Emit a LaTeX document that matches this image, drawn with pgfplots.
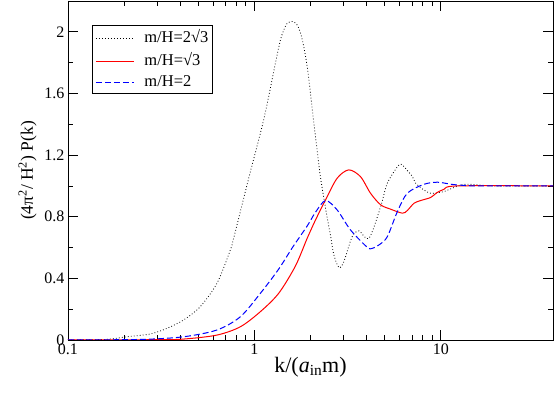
\documentclass[border=0pt]{standalone}
\usepackage{fontspec}
\setmainfont{Liberation Serif}
\usepackage{pgfplots}
\pgfplotsset{compat=1.18}
\newcommand{\legline}[1]{\tikz[baseline=-0.6ex]\draw[#1] (0pt,0pt) -- (38pt,0pt);\hspace{10pt}}

\begin{document}
\begin{tikzpicture}
  \begin{axis}[
      scale only axis, width=485pt, height=339pt,
      xmode=log, xmin=0.1, xmax=40,
      ymin=0, ymax=2.2,
      xtick={0.1,1,10}, xticklabels={0.1,1,10},
      ytick={0,0.4,0.8,1.2,1.6,2}, minor y tick num=1,
      /pgf/number format/assume math mode=true,
      tick label style={font=\fontsize{16}{18}\selectfont},
      major tick length=10pt, minor tick length=5pt,
      tick align=inside, tick pos=both,
      axis line style={line width=0.8pt},
      tick style={black, line width=0.8pt},
      xlabel={k/(\textit{a}\textsubscript{in}m)},
      ylabel={(4π\textsuperscript{2}/ H\textsuperscript{2}) P(k)},
      xlabel style={font=\fontsize{22}{24}\selectfont, yshift=4pt},
      ylabel style={font=\fontsize{17.5}{20}\selectfont, yshift=1pt},
      legend cell align=left,
      legend image code/.code={},
      legend style={at={(0.049,0.929)}, anchor=north west,
        font=\fontsize{16.5}{19}\selectfont, row sep=4.5pt, column sep=0pt,
        inner xsep=1.5pt, inner ysep=2.5pt},
    ]
    \addplot[black, line width=0.8pt, dash pattern=on 0.8pt off 2.2pt, smooth, tension=0.5] coordinates {
      (0.1,0) (0.14,0.002) (0.168,0.006) (0.207,0.021) (0.276,0.039) (0.34,0.076)
      (0.417,0.13) (0.512,0.216) (0.63,0.368) (0.743,0.584) (0.774,0.66)
      (0.93,1.045) (1.122,1.43) (1.297,1.797) (1.38,1.948) (1.44,2.013)
      (1.5,2.056) (1.6,2.067) (1.695,2.045) (1.77,1.99) (1.84,1.905)
      (1.92,1.775) (2.0,1.60) (2.085,1.407) (2.17,1.234) (2.26,1.06)
      (2.36,0.92) (2.47,0.78) (2.56,0.68) (2.66,0.56) (2.78,0.49)
      (2.88,0.468) (3.0,0.5) (3.085,0.541) (3.35,0.671)
      (3.64,0.708) (4.12,0.66) (4.76,0.866) (5.17,1.018) (5.97,1.136)
      (6.35,1.125) (6.61,1.10) (7.05,1.06) (7.33,1.018) (8.1,0.974)
      (8.84,0.952) (9.78,0.957) (10.4,0.963) (12.8,1.006) (14.5,1.01)
      (16,1.006) (20,1.0) (40,1.0)
    };
    \addlegendentry{\legline{draw=black, line width=0.8pt, dash pattern=on 0.8pt off 2.2pt}m/H=2√3}
    \addplot[red, line width=1pt, smooth, tension=0.5] coordinates {
      (0.1,0) (0.3,0.002) (0.417,0.006) (0.63,0.032) (0.841,0.086)
      (1.077,0.184) (1.35,0.303) (1.66,0.48) (1.92,0.66) (2.13,0.78)
      (2.41,0.91) (2.78,1.05) (3.21,1.104) (3.71,1.06) (4.2,0.952) (4.76,0.877)
      (5.38,0.849) (6.23,0.823) (6.61,0.84) (7.18,0.887) (7.8,0.905)
      (8.83,0.925) (9.5,0.955) (10.4,0.978) (12.3,1.0) (40,1.0)
    };
    \addlegendentry{\legline{draw=red, line width=1pt, solid}m/H=√3}
    \addplot[blue, line width=1pt, dash pattern=on 6pt off 3pt, smooth, tension=0.5] coordinates {
      (0.1,0) (0.25,0.004) (0.417,0.021) (0.63,0.065) (0.841,0.151)
      (1.077,0.303) (1.35,0.46) (1.6,0.6) (1.92,0.74) (2.13,0.83) (2.41,0.905)
      (2.78,0.844) (3.28,0.714) (4.03,0.602) (4.29,0.595) (4.7,0.62)
      (5.17,0.671) (5.85,0.833) (6.61,0.952) (8.1,1.01) (9.6,1.024)
      (11.3,1.011) (13,1.004) (16,1.0) (40,1.0)
    };
    \addlegendentry{\legline{draw=blue, line width=1pt, dash pattern=on 6pt off 3pt}m/H=2}
  \end{axis}
  \pgfresetboundingbox
  \path ([xshift=-68pt,yshift=-53pt]current axis.south west)
    rectangle ([xshift=1pt,yshift=1pt]current axis.north east);
\end{tikzpicture}
\end{document}
